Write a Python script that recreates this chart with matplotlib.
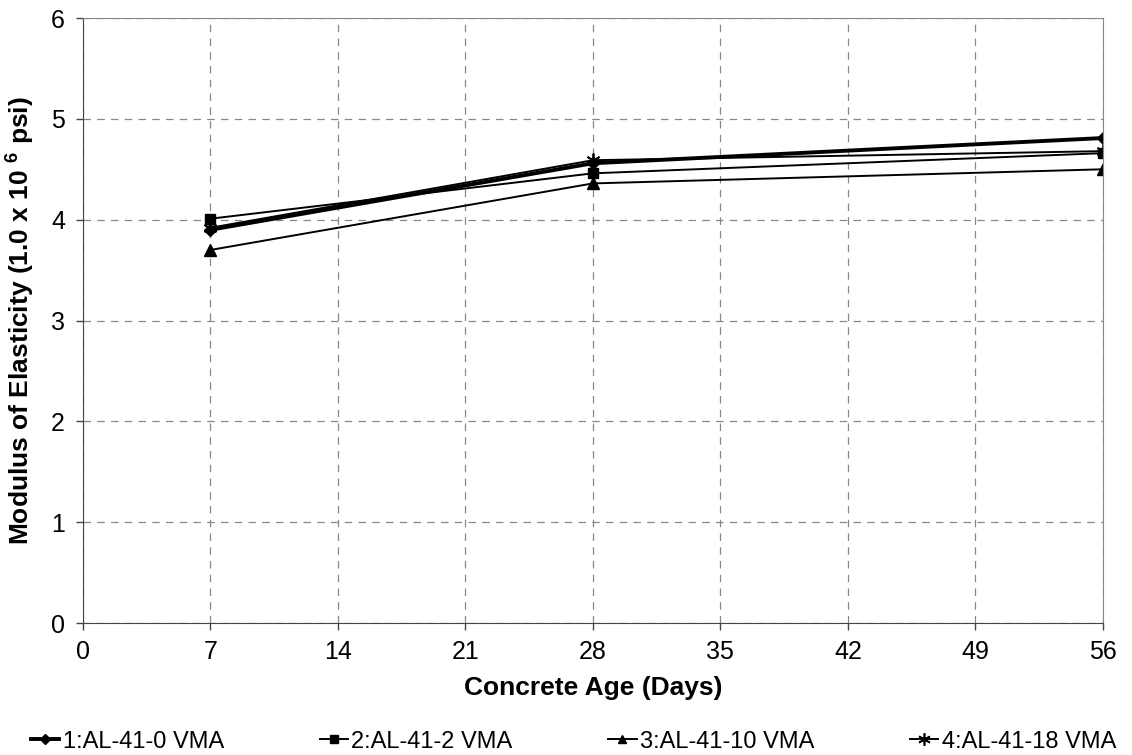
import numpy as np
import matplotlib
matplotlib.use("Agg")
import matplotlib.pyplot as plt
from matplotlib.lines import Line2D

plt.rcParams['font.family'] = ['Liberation Sans', 'DejaVu Sans']
plt.rcParams['mathtext.fontset'] = 'custom'
plt.rcParams['mathtext.rm'] = 'Liberation Sans'
plt.rcParams['mathtext.bf'] = 'Liberation Sans:bold'

amzius = [7, 28, 56]
mod_0vma = [3.90, 4.56, 4.81]
mod_2vma = [4.01, 4.46, 4.66]
mod_10vma = [3.70, 4.36, 4.50]
mod_18vma = [3.92, 4.59, 4.68]
pavadinimai = ["1:AL-41-0 VMA", "2:AL-41-2 VMA", "3:AL-41-10 VMA", "4:AL-41-18 VMA"]

zvaigzde = (6, 2, 0)

fig = plt.figure(figsize=(11.32, 7.55), dpi=100)
ax = fig.add_axes([0.0733, 0.1748, 0.901, 0.8013])

ax.plot(amzius, mod_0vma, color='black', lw=2.8, marker='D', ms=6)
ax.plot(amzius, mod_2vma, color='black', lw=1.4, marker='s', ms=7)
ax.plot(amzius, mod_10vma, color='black', lw=1.4, marker='^', ms=8)
ax.plot(amzius, mod_18vma, color='black', lw=1.4, marker=zvaigzde, ms=10, mew=1.3)

ax.set_xlim(0, 56)
ax.set_ylim(0, 6)
ax.set_xticks(np.arange(0, 57, 7))
ax.set_yticks(np.arange(0, 7, 1))
ax.grid(True, color='#888888', ls=(0, (6, 5)), lw=0.9)
ax.tick_params(labelsize=18, length=5, width=1, color='#444444')
ax.tick_params(axis='x', pad=7)
ax.tick_params(axis='y', pad=8)
for s in ['top', 'right']:
    ax.spines[s].set_color('#888888')
for s in ['left', 'bottom']:
    ax.spines[s].set_color('#444444')

ax.set_xlabel("Concrete Age (Days)", fontsize=19, fontweight='bold', labelpad=9)
ax.set_ylabel("Modulus of Elasticity (1.0 x 10 $^{\\mathbf{6}}$ psi)", fontsize=19,
              fontweight='bold', labelpad=11)

rankenos = [
    Line2D([], [], color='black', lw=2.8, marker='D', ms=5),
    Line2D([], [], color='black', lw=1.4, marker='s', ms=6),
    Line2D([], [], color='black', lw=1.4, marker='^', ms=6),
    Line2D([], [], color='black', lw=1.4, marker=zvaigzde, ms=9, mew=1.2),
]
ax.legend(rankenos, pavadinimai, loc='center', bbox_to_anchor=(0.481, -0.196), ncol=4,
          frameon=False, fontsize=17, columnspacing=4.05, handlelength=1.2,
          handletextpad=0.15, borderaxespad=0, borderpad=0)

fig.savefig("out.png", dpi=100)
